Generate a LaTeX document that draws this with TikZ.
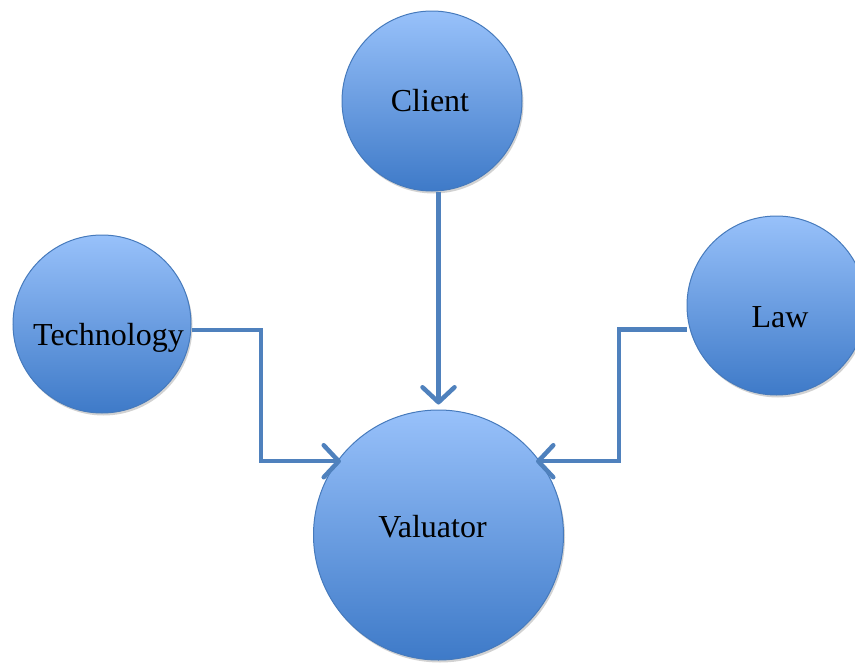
\documentclass[tikz,border=0pt]{standalone}
\usepackage{fontspec}
\setmainfont{Liberation Serif}
\usetikzlibrary{arrows.meta,shadows}
\definecolor{topblue}{RGB}{152,193,250}
\definecolor{botblue}{RGB}{62,122,200}
\definecolor{edgeblue}{RGB}{70,122,188}
\definecolor{lineblue}{RGB}{79,129,189}
\begin{document}
\begin{tikzpicture}[x=1pt,y=-1pt,
  bubble/.style={circle, draw=edgeblue, line width=1pt, top color=topblue, bottom color=botblue,
    inner sep=0pt, drop shadow={opacity=0.25, shadow xshift=1.5pt, shadow yshift=-2.5pt, fill=black!70}},
  lbl/.style={font=\fontsize{32}{38}\selectfont, anchor=base, inner sep=0pt},
  conn/.style={draw=lineblue, line width=4.5pt, line join=miter,
    -{Straight Barb[length=15pt,width=32pt,round]}}
]
\useasboundingbox (0,0) rectangle (855,664);

\node[bubble, minimum size=180pt] (client) at (432,101) {};
\node[bubble, minimum size=178pt] (tech) at (102,324) {};
\node[bubble, minimum size=179pt] (law) at (776.5,305.5) {};
\node[bubble, minimum size=250pt] (val) at (438.5,535) {};

\node[lbl] (tclient) at (430,111) {Client};
\node[lbl] (ttech) at (108.5,345) {Technology};
\node[lbl] (tlaw) at (780,327) {Law};
\node[lbl] (tval) at (432.5,537) {Valuator};

\coordinate (tb) at (261,462);
\coordinate (lb) at (619,462);

\draw[conn, shorten >=5pt] (client.south -| val.north) -- (val.north);
\draw[conn, shorten >=-4pt] ([yshift=-6pt]tech.east) -| (tb |- val.144) -- (val.144);
\draw[conn, shorten >=-4pt] ([yshift=-24pt]law.west) -| (lb |- val.36) -- (val.36);
\end{tikzpicture}
\end{document}
